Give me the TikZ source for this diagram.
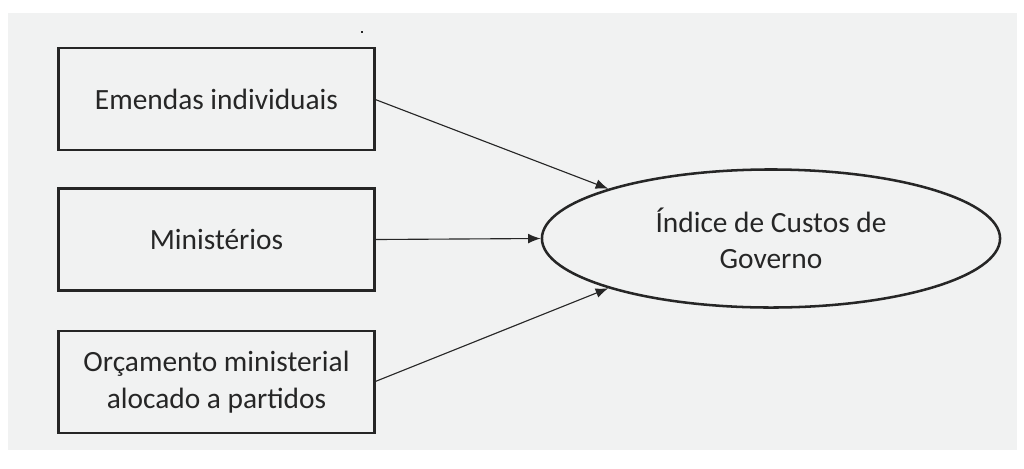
\documentclass[tikz,border=0pt]{standalone}
\usepackage{fontspec}
\setmainfont{Carlito}
\usetikzlibrary{shapes.geometric, arrows.meta}
\definecolor{bggray}{HTML}{F1F2F2}
\definecolor{inkgray}{HTML}{262626}

\begin{document}
\begin{tikzpicture}[x=0.025cm, y=-0.025cm,
  srcbox/.style={draw=inkgray, line width=1.8pt, minimum width=7.9cm, minimum height=2.55cm,
    align=center, text=inkgray, font=\fontsize{20.9}{26}\selectfont},
  target/.style={ellipse, draw=inkgray, line width=1.8pt, minimum width=11.45cm, minimum height=3.45cm,
    align=center, text=inkgray, font=\fontsize{20.9}{25.5}\selectfont, inner sep=0pt},
  link/.style={draw=inkgray, line width=0.8pt, -{Latex[length=9pt, width=7pt]}}]
\useasboundingbox (0,0) rectangle (1024,468);
\fill[white] (0,0) rectangle (1024,468);
\fill[bggray] (8,13) rectangle (1017,450);
\fill[inkgray] (361,31) rectangle (363,33);

\node[srcbox] (emendas) at (216.5,99) {Emendas individuais};
\node[srcbox] (minist) at (216.5,239.5) {Minist\'erios};
\node[srcbox] (orcam) at (216.5,382) {Or\c{c}amento ministerial\\alocado a partidos};

\node[target] (indice) at (771,238.5) {\'Indice de Custos de\\Governo};

\draw[link] ([yshift=-0.5pt]emendas.east) -- (indice.163);
\draw[link] (minist.east) -- (indice.west);
\draw[link] ([yshift=0.5pt]orcam.east) -- (indice.197);

\end{tikzpicture}
\end{document}
